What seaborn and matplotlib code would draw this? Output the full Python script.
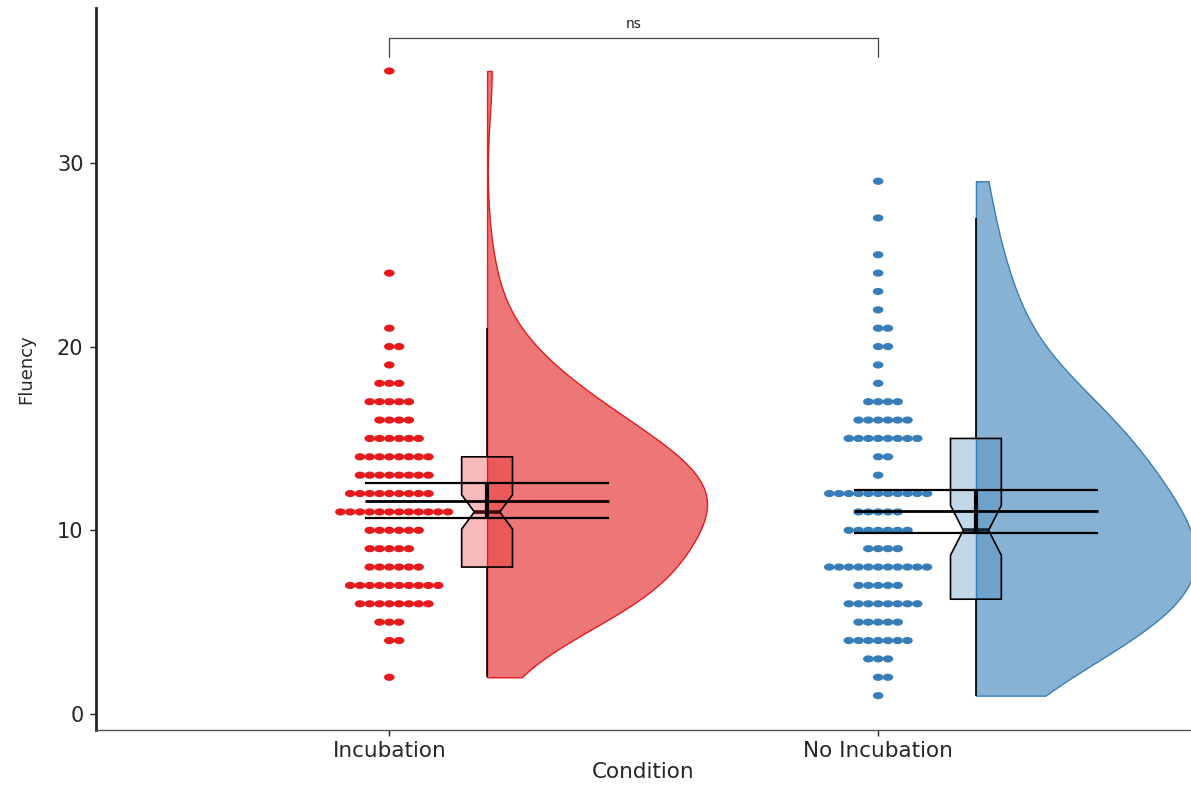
import numpy as np
import pandas as pd
import matplotlib
matplotlib.use("Agg")
import matplotlib.pyplot as plt
import seaborn as sns
from matplotlib.path import Path
from matplotlib.transforms import Affine2D

conditions = ["Incubation", "No Incubation"]
# fluency score and how many participants had it, read from the dot stacks
inc_scores = [2, 4, 5, 6, 7, 8, 9, 10, 11, 12, 13, 14, 15, 16, 17, 18, 19, 20, 21, 24, 35]
inc_counts = [1, 2, 3, 8, 10, 6, 5, 6, 12, 9, 8, 8, 6, 4, 5, 3, 1, 2, 1, 1, 1]
noinc_scores = [1, 2, 3, 4, 5, 6, 7, 8, 9, 10, 11, 12, 13, 14, 15, 16, 17, 18, 19,
                20, 21, 22, 23, 24, 25, 27, 29]
noinc_counts = [1, 2, 3, 7, 5, 8, 5, 11, 4, 7, 5, 11, 1, 2, 8, 6, 4, 1, 1,
                2, 2, 1, 1, 1, 1, 1, 1]
sig_label = "ns"

main_col = {"Incubation": "#E41A1C", "No Incubation": "#377EB8"}
violin_fill = {"Incubation": "#EF7677", "No Incubation": "#87B2D4"}
box_fill = {k: matplotlib.colors.to_rgba(v, 0.3) for k, v in main_col.items()}

# long table, one row per participant
rows = []
for i, (cond, scores, counts) in enumerate([(conditions[0], inc_scores, inc_counts),
                                             (conditions[1], noinc_scores, noinc_counts)]):
    for s, k in zip(scores, counts):
        for j in range(k):
            # centerwhole style stacking
            rows.append({"cond": cond, "fluency": s, "idx": i,
                         "dotx": i + (j - (k - 1) // 2) * 0.02})
df = pd.DataFrame(rows)
df["vpos"] = df["idx"] + 0.2
df["side"] = "R"

sns.set_style("ticks")
fig = plt.figure(figsize=(11.91, 7.88), dpi=100)
ax = fig.add_axes([96 / 1191, 1 - 730 / 788, 1 - 96 / 1191, (730 - 8) / 788])

# dots
ell = Affine2D().scale(1, 0.68).transform_path(Path.unit_circle())
sns.scatterplot(data=df, x="dotx", y="fluency", hue="cond", palette=main_col,
                marker=ell, s=58, linewidth=0, edgecolor="none", legend=False, ax=ax, zorder=2)

# half violins (right half only)
for cond in conditions:
    sub = df[df["cond"] == cond]
    sns.violinplot(data=sub, x="vpos", y="fluency", hue="side", hue_order=["L", "R"],
                   palette={"L": violin_fill[cond], "R": violin_fill[cond]},
                   split=True, native_scale=True, cut=0, density_norm="width",
                   inner=None, width=0.9, linecolor=main_col[cond], linewidth=1,
                   bw_method=0.5, dodge=True, saturation=1, legend=False, ax=ax)

# notched boxes
sns.boxplot(data=df, x="vpos", y="fluency", hue="cond", palette=box_fill,
            native_scale=True, width=0.104, dodge=False, saturation=1,
            linecolor="black", linewidth=1.2, shownotches=True, showcaps=False,
            showfliers=False, medianprops=dict(linewidth=2.6), legend=False, ax=ax)
for p in ax.patches:
    fc = p.get_facecolor()
    p.set_alpha(None)
    p.set_facecolor((fc[0], fc[1], fc[2], 0.3))
    p.set_edgecolor("black")
    p.set_zorder(3)

# mean and 95% CI
for i, cond in enumerate(conditions):
    y = df.loc[df["cond"] == cond, "fluency"].to_numpy()
    m = y.mean()
    h = 1.984 * y.std(ddof=1) / np.sqrt(len(y))
    ax.errorbar(i + 0.2, m, yerr=h, fmt="none", ecolor="black", elinewidth=3,
                capsize=88, capthick=1.6, zorder=4)
    ax.hlines(m, i + 0.2 - 0.25, i + 0.2 + 0.25, color="black", lw=2, zorder=4)

# significance bracket
ax.plot([0, 0, 1, 1], [35.77, 36.8, 36.8, 35.77], color="#444444", lw=0.9, zorder=3)
ax.text(0.5, 37.2, sig_label, ha="center", va="bottom", fontsize=10)

ax.set_xlim(-0.6, 1.64)
ax.set_ylim(-0.87, 38.43)
ax.set_xticks([0, 1])
ax.set_xticklabels(conditions)
ax.set_yticks([0, 10, 20, 30])
ax.tick_params(axis="x", labelsize=15.5, length=4, width=1, pad=4)
ax.tick_params(axis="y", labelsize=15, length=4, width=1, pad=5)
ax.set_xlabel("Condition", fontsize=15.5, labelpad=1)
ax.set_ylabel("Fluency", fontsize=13, labelpad=16)
sns.despine(ax=ax)
ax.spines["left"].set_linewidth(2)
ax.spines["left"].set_color("#222222")
ax.spines["bottom"].set_linewidth(1)
ax.spines["bottom"].set_color("#555555")

fig.savefig("out.png", dpi=100)
